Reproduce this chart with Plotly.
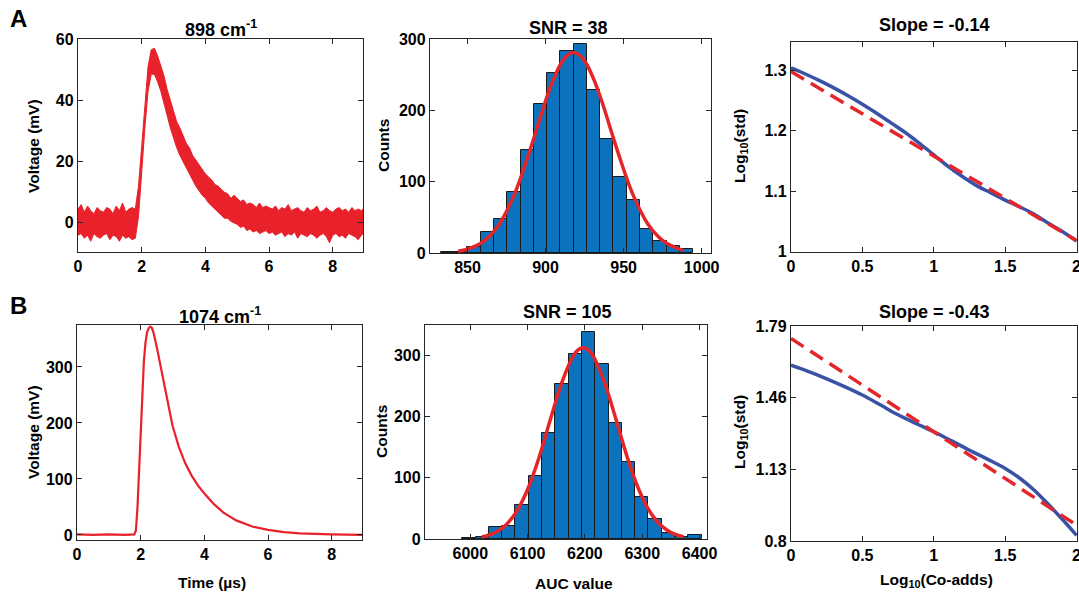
import plotly.graph_objects as go

W, H = 1079, 595

# ---------------- data ----------------
# Panel A1: 898 cm-1 photoacoustic trace (noisy) - upper/lower envelope of the noise band
A_t = [0.0, 0.1, 0.2, 0.3, 0.4, 0.5, 0.6, 0.7, 0.8, 0.9,
       1.0, 1.1, 1.2, 1.3, 1.4, 1.5, 1.6, 1.7, 1.8, 1.9,
       2.0, 2.1, 2.2, 2.3, 2.4, 2.5, 2.6, 2.7, 2.8, 2.9,
       3.0, 3.1, 3.2, 3.3, 3.4, 3.5, 3.6, 3.7, 3.8, 3.9,
       4.0, 4.1, 4.2, 4.3, 4.4, 4.5, 4.6, 4.7, 4.8, 4.9,
       5.0, 5.1, 5.2, 5.3, 5.4, 5.5, 5.6, 5.7, 5.8, 5.9,
       6.0, 6.1, 6.2, 6.3, 6.4, 6.5, 6.6, 6.7, 6.8, 6.9,
       7.0, 7.1, 7.2, 7.3, 7.4, 7.5, 7.6, 7.7, 7.8, 7.9,
       8.0, 8.1, 8.2, 8.3, 8.4, 8.5, 8.6, 8.7, 8.8, 8.9, 8.95]
A_upper = [4.5, 6.0, 3.5, 5.5, 4.0, 3.0, 5.0, 4.0, 3.5, 5.0,
           4.5, 3.0, 5.5, 4.0, 6.5, 3.5, 4.5, 5.0, 4.5, 12,
           25, 39, 51, 56.5, 57, 54.5, 51.5, 48, 43.5, 40,
           36, 33, 31, 28.5, 26, 24.5, 22, 20.5, 19, 17.5,
           16, 15, 14, 12.5, 12, 11, 10, 9.5, 8, 9,
           8, 7, 7.5, 6, 6.5, 6, 5, 6.5, 5, 5.5,
           5, 4.5, 5.5, 4, 5, 4.5, 6, 4, 4.5, 5,
           4, 3.5, 5, 4, 4.5, 5.5, 3.5, 4, 5, 4,
           3.5, 4.5, 5, 4, 4.5, 3.5, 5, 4, 4.5, 4, 4.5]
A_lower = [-4.0, -3.5, -5.0, -4.0, -6.0, -3.5, -4.5, -5.0, -4.0, -3.5,
           -5.5, -4.0, -4.5, -6.0, -4.0, -5.0, -4.5, -5.5, -5.0, 2,
           16, 31, 43, 48.5, 48.5, 46, 43, 39, 35, 31,
           27.5, 24.5, 22, 20, 17.5, 16, 14, 12, 10.5, 9,
           8, 6.5, 5.5, 4.5, 3.5, 2.5, 1.5, 1.5, 0.5, 0,
           -0.5, -1.5, -1, -2.5, -2, -3, -2.5, -3.5, -3, -2.5,
           -3.5, -3, -4, -3.5, -3, -4.5, -3.5, -4, -3, -5,
           -3.5, -4, -4.5, -3.5, -4, -5, -4, -3.5, -4.5, -6.5,
           -4, -3.5, -4.5, -4, -5, -3.5, -4, -4.5, -5.5, -4, -3.5]

# Panel B1: 1074 cm-1 trace
B_t = [0.0, 0.5, 1.0, 1.5, 1.8, 1.85, 1.9, 1.95, 2.0, 2.05, 2.1, 2.15, 2.2, 2.25,
       2.3, 2.35, 2.4, 2.5, 2.6, 2.7, 2.8, 2.9, 3.0, 3.2, 3.4, 3.6, 3.8, 4.0,
       4.3, 4.6, 5.0, 5.5, 6.0, 6.5, 7.0, 8.0, 8.95]
B_v = [1, 0, 1, 0, 1, 8, 50, 120, 195, 260, 310, 343, 362, 369,
       372, 370, 362, 337, 308, 278, 248, 220, 195, 157, 128, 106, 88, 74,
       55, 40, 26, 15, 9, 5, 3, 1, 0]

# Panel A2: histogram of AUC values (898 cm-1)
A_hist_start = 833.0
A_hist_width = 8.5
A_hist_counts = [2, 1, 8, 29, 48, 85, 145, 209, 252, 283, 293, 228, 160, 106, 75, 34, 17, 10, 5]
A_fit_x = [844, 850, 860, 870, 880, 890, 900, 905, 910, 914, 918, 922, 926, 931, 936, 946, 956, 966, 976, 988]
A_fit_y = [2.6, 5.4, 15.9, 39.3, 81.9, 143.9, 213, 243, 266, 277, 281, 277, 266, 243, 213, 143.9, 81.9, 39.3, 15.9, 3.6]

# Panel B2: histogram of AUC values (1074 cm-1)
B_hist_start = 5986.0
B_hist_width = 23.2
B_hist_counts = [1, 3, 19, 22, 55, 103, 173, 253, 301, 337, 285, 189, 125, 68, 33, 10, 4, 7]
B_fit_x = [6020, 6040, 6060, 6080, 6100, 6120, 6140, 6160, 6180, 6189, 6197, 6205, 6214,
           6234, 6254, 6274, 6294, 6314, 6334, 6354, 6372]
B_fit_y = [3.5, 9.0, 21, 43.7, 80.8, 133, 195.7, 256, 299, 309, 312, 309, 299,
           256, 195.7, 133, 80.8, 43.7, 21, 9.0, 3.9]

# Panel A3: log10(std) vs log10(co-adds)
A3_x = [0, 0.1, 0.2, 0.3, 0.4, 0.5, 0.6, 0.7, 0.8, 0.9, 1.0,
        1.1, 1.2, 1.3, 1.4, 1.5, 1.6, 1.7, 1.8, 1.9, 2.0]
A3_y = [1.304, 1.294, 1.283, 1.271, 1.258, 1.244, 1.229, 1.213, 1.197, 1.179, 1.160,
        1.141, 1.124, 1.109, 1.097, 1.085, 1.074, 1.062, 1.047, 1.033, 1.017]
A3_fit_x = [0, 2]
A3_fit_y = [1.298, 1.018]

# Panel B3
B3_x = [0, 0.125, 0.25, 0.375, 0.5, 0.625, 0.75, 0.875, 1.0, 1.125, 1.25, 1.375,
        1.5, 1.6, 1.7, 1.8, 1.9, 2.0]
B3_y = [1.610, 1.580, 1.547, 1.511, 1.472, 1.427, 1.381, 1.341, 1.303, 1.261, 1.218, 1.177,
        1.134, 1.090, 1.036, 0.970, 0.900, 0.826]
B3_fit_x = [0, 2]
B3_fit_y = [1.733, 0.873]

# ---------------- styling ----------------
RED = "#E8212B"
HRED = "#E4262B"
BLUE_BAR = "#0B72BD"
NAVY = "#3A52A6"
FONT = "Liberation Sans, Arial, sans-serif"
AXC = "#262626"

boxes = {  # pixel boxes: x0, x1, y0(top), y1(bottom)
    1: (78, 363, 39, 252),
    2: (430, 711, 39, 253),
    3: (791, 1077, 42, 252),
    4: (77, 362, 325, 540),
    5: (425, 707, 325, 539),
    6: (791, 1077, 326, 541),
}

fig = go.Figure()


def ax_names(i):
    return ("x" if i == 1 else f"x{i}"), ("y" if i == 1 else f"y{i}")


# A1 noisy band
xa, ya = ax_names(1)
fig.add_trace(go.Scatter(x=A_t + A_t[::-1], y=A_upper + A_lower[::-1], fill="toself",
                         fillcolor=RED, line=dict(color=RED, width=1), mode="lines",
                         xaxis=xa, yaxis=ya, showlegend=False, hoverinfo="skip"))

# B1 trace
xa, ya = ax_names(4)
fig.add_trace(go.Scatter(x=B_t, y=B_v, mode="lines", line=dict(color=RED, width=2.2),
                         xaxis=xa, yaxis=ya, showlegend=False))

# A2 histogram
xa, ya = ax_names(2)
A_centers = [A_hist_start + A_hist_width * (k + 0.5) for k in range(len(A_hist_counts))]
fig.add_trace(go.Bar(x=A_centers, y=A_hist_counts, width=A_hist_width,
                     marker=dict(color=BLUE_BAR, line=dict(color="#1a1a1a", width=1)),
                     xaxis=xa, yaxis=ya, showlegend=False))
fig.add_trace(go.Scatter(x=A_fit_x, y=A_fit_y, mode="lines", line=dict(color=HRED, width=3.5, shape="spline"),
                         xaxis=xa, yaxis=ya, showlegend=False))

# B2 histogram
xa, ya = ax_names(5)
B_centers = [B_hist_start + B_hist_width * (k + 0.5) for k in range(len(B_hist_counts))]
fig.add_trace(go.Bar(x=B_centers, y=B_hist_counts, width=B_hist_width,
                     marker=dict(color=BLUE_BAR, line=dict(color="#1a1a1a", width=1)),
                     xaxis=xa, yaxis=ya, showlegend=False))
fig.add_trace(go.Scatter(x=B_fit_x, y=B_fit_y, mode="lines", line=dict(color=HRED, width=3.5, shape="spline"),
                         xaxis=xa, yaxis=ya, showlegend=False))

# A3
xa, ya = ax_names(3)
fig.add_trace(go.Scatter(x=A3_x, y=A3_y, mode="lines", line=dict(color=NAVY, width=3.5, shape="spline"),
                         xaxis=xa, yaxis=ya, showlegend=False))
fig.add_trace(go.Scatter(x=A3_fit_x, y=A3_fit_y, mode="lines", line=dict(color=HRED, width=3.5, dash="15px,8px"),
                         xaxis=xa, yaxis=ya, showlegend=False))

# B3
xa, ya = ax_names(6)
fig.add_trace(go.Scatter(x=B3_x, y=B3_y, mode="lines", line=dict(color=NAVY, width=3.5, shape="spline"),
                         xaxis=xa, yaxis=ya, showlegend=False))
fig.add_trace(go.Scatter(x=B3_fit_x, y=B3_fit_y, mode="lines", line=dict(color=HRED, width=3.5, dash="15px,8px"),
                         xaxis=xa, yaxis=ya, showlegend=False))

ranges = {
    1: ([0, 8.95], [-9.5, 60], [0, 2, 4, 6, 8], [0, 20, 40, 60]),
    2: ([826, 1006], [0, 300], [850, 900, 950, 1000], [0, 100, 200, 300]),
    3: ([0, 2.003], [0.999, 1.347], [0, 0.5, 1, 1.5, 2], [1, 1.1, 1.2, 1.3]),
    4: ([0, 8.95], [-9, 375], [0, 2, 4, 6, 8], [0, 100, 200, 300]),
    5: ([5921, 6413], [0, 349], [6000, 6100, 6200, 6300, 6400], [0, 100, 200, 300]),
    6: ([0, 2.003], [0.8, 1.79], [0, 0.5, 1, 1.5, 2], [0.8, 1.13, 1.46, 1.79]),
}

layout = dict(width=W, height=H, margin=dict(l=0, r=0, t=0, b=0),
              paper_bgcolor="white", plot_bgcolor="white", bargap=0,
              font=dict(family=FONT, color="black"))

tickfont = dict(family=FONT, size=16, color="black", weight="bold")
for i in range(1, 7):
    x0, x1, y0, y1 = boxes[i]
    xr, yr, xt, yt = ranges[i]
    xk = "xaxis" if i == 1 else f"xaxis{i}"
    yk = "yaxis" if i == 1 else f"yaxis{i}"
    xa, ya = ax_names(i)
    common = dict(showline=True, linecolor=AXC, linewidth=1.3, mirror="ticks", ticks="inside",
                  ticklen=5, tickwidth=1.3, tickcolor=AXC, showgrid=False, zeroline=False,
                  tickfont=tickfont, automargin=False, fixedrange=True, ticklabeloverflow="allow")
    layout[xk] = dict(domain=[x0 / W, x1 / W], range=xr, tickvals=xt, anchor=ya, **common)
    layout[yk] = dict(domain=[1 - y1 / H, 1 - y0 / H], range=yr, tickvals=yt, anchor=xa, **common)

fig.update_layout(**layout)


def ann(text, x, y, size=15.5, angle=0):
    fig.add_annotation(text=text, x=x / W, y=1 - y / H, xref="paper", yref="paper",
                       showarrow=False, textangle=angle, xanchor="center", yanchor="middle",
                       font=dict(family=FONT, size=size, color="black", weight="bold"))


# panel letters
ann("A", 18, 18, size=24)
ann("B", 18, 305, size=24)
# titles
ann("898 cm<sup>-1</sup>", 221, 28, size=18)
ann("SNR = 38", 568, 28, size=18)
ann("Slope = -0.14", 934, 25, size=18)
ann("1074 cm<sup>-1</sup>", 220, 315, size=18)
ann("SNR = 105", 567, 312, size=18)
ann("Slope = -0.43", 934, 312, size=18)
# axis titles
ann("Voltage (mV)", 33, 146, angle=-90)
ann("Counts", 383, 146, angle=-90)
ann("Log<sub>10</sub>(std)", 740, 146, angle=-90)
ann("Voltage (mV)", 33, 432, angle=-90)
ann("Counts", 381, 432, angle=-90)
ann("Log<sub>10</sub>(std)", 740, 432, angle=-90)
ann("Time (µs)", 212, 582)
ann("AUC value", 574, 583)
ann("Log<sub>10</sub>(Co-adds)", 936, 580)

fig.write_html("out.html", config={"displayModeBar": False},
               post_script="document.body.style.margin='0px';document.body.style.overflow='hidden';")
